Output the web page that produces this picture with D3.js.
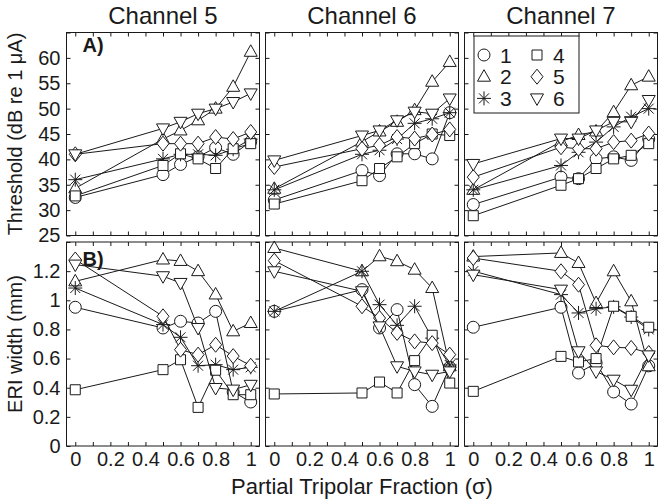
<!DOCTYPE html>
<html><head><meta charset="utf-8">
<script src="https://cdn.jsdelivr.net/npm/d3@7"></script>
<style>
html,body{margin:0;padding:0;background:#fff;}
svg{display:block;font-family:"Liberation Sans",Arial,sans-serif;}
</style></head>
<body><svg id="chart" width="663" height="503"></svg>
<script>
// ---------------- data ----------------
const fractions = [0, 0.5, 0.6, 0.7, 0.8, 0.9, 1.0];
const channels = ["Channel 5", "Channel 6", "Channel 7"];
const seriesNames = ["1", "2", "3", "4", "5", "6"];
const seriesSymbols = ["circle", "triangle", "star", "square", "diamond", "triangleDown"];

// Threshold (dB re 1 uA), [series][fraction]
const thresholdCh5 = [
  [32.5, 37.0, 39.0, 40.5, 42.3, 41.0, 43.5],
  [34.3, 44.0, 45.7, 47.7, 50.0, 54.3, 61.2],
  [36.0, 40.1, 41.0, 41.0, 40.8, 42.0, 44.0],
  [32.8, 38.8, 41.1, 40.1, 38.2, 42.1, 43.1],
  [41.0, 43.1, 43.1, 43.1, 44.4, 44.0, 45.4],
  [41.0, 46.1, 47.4, 49.0, 50.0, 51.3, 53.0]
];
const thresholdCh6 = [
  [32.0, 37.8, 36.8, 41.1, 41.1, 40.1, 49.2],
  [34.2, 43.5, 45.5, 47.4, 49.7, 55.3, 59.2],
  [34.0, 41.0, 41.8, 44.0, 47.1, 48.0, 49.2],
  [31.2, 35.8, 38.2, 40.5, 43.1, 45.0, 44.7],
  [38.5, 42.1, 42.8, 44.4, 44.1, 44.9, 45.9],
  [39.8, 44.7, 45.7, 47.7, 49.4, 49.0, 52.0]
];
const thresholdCh7 = [
  [31.1, 36.5, 36.2, 40.1, 40.5, 39.8, 44.0],
  [34.0, 43.5, 44.8, 45.5, 49.3, 54.6, 56.3],
  [34.0, 38.8, 41.4, 43.4, 46.4, 48.4, 50.0],
  [28.9, 34.9, 36.2, 38.2, 40.1, 40.8, 43.1],
  [36.5, 42.4, 42.1, 42.1, 43.4, 43.7, 45.1],
  [39.1, 44.1, 44.1, 45.7, 47.4, 47.4, 51.7]
];
// ERI width (mm), [series][fraction]
const eriCh5 = [
  [0.952, 0.810, 0.856, 0.844, 0.924, 0.371, 0.302],
  [1.130, 1.280, 1.270, 1.200, 1.040, 0.787, 0.844],
  [1.084, 0.833, 0.746, 0.551, 0.558, 0.524, 0.540],
  [0.386, 0.524, 0.592, 0.265, 0.520, 0.352, 0.352],
  [1.280, 0.890, 0.661, 0.627, 0.695, 0.617, 0.551],
  [1.245, 1.165, 1.119, 0.810, 0.398, 0.387, 0.420]
];
const eriCh6 = [
  [0.924, 1.073, 0.810, 0.936, 0.421, 0.272, 0.540],
  [1.359, 1.199, 1.302, 1.268, 1.210, 1.084, 0.547],
  [0.924, 1.199, 0.970, 0.828, 0.959, 0.740, 0.556],
  [0.357, 0.364, 0.439, 0.364, 0.586, 0.760, 0.432],
  [1.272, 0.959, 0.878, 0.776, 0.718, 0.706, 0.627],
  [1.199, 1.062, 0.821, 0.547, 0.512, 0.489, 0.512]
];
const eriCh7 = [
  [0.815, 0.952, 0.501, 0.570, 0.371, 0.288, 0.550],
  [1.300, 1.325, 1.256, 0.981, 1.199, 0.993, 0.547],
  [1.200, 1.039, 0.913, 0.942, 0.955, 0.885, 0.800],
  [0.375, 0.615, 0.577, 0.600, 0.959, 0.890, 0.815],
  [1.290, 1.199, 1.107, 0.691, 0.677, 0.673, 0.638],
  [1.176, 1.073, 0.650, 0.512, 0.455, 0.386, 0.622]
];

const xTickValues = [0, 0.1, 0.2, 0.3, 0.4, 0.5, 0.6, 0.7, 0.8, 0.9, 1.0];
const xTickLabels = ["0", "", "0.2", "", "0.4", "", "0.6", "", "0.8", "", "1"];
const thrTickValues = [25, 30, 35, 40, 45, 50, 55, 60, 65];
const thrTickLabels = ["25", "30", "35", "40", "45", "50", "55", "60", ""];
const eriTickValues = [0, 0.2, 0.4, 0.6, 0.8, 1.0, 1.2, 1.4];
const eriTickLabels = ["0", "0.2", "0.4", "0.6", "0.8", "1", "1.2", ""];

const panelLetters = ["A)", "B)"];
const yLabels = ["Threshold (dB re 1 \u03BCA)", "ERI width (mm)"];
const xLabel = "Partial Tripolar Fraction (\u03C3)";

// ---------------- layout ----------------
const svg = d3.select("#chart");
const ink = "#1a1a1a";
const colLeft = [66.5, 265.5, 464.5];
const colW = 193;
const rows = [
  {top: 32.5, bottom: 235.5, domain: [25, 65], data: [thresholdCh5, thresholdCh6, thresholdCh7],
   ticks: thrTickValues, labels: thrTickLabels},
  {top: 242, bottom: 446, domain: [0, 1.4], data: [eriCh5, eriCh6, eriCh7],
   ticks: eriTickValues, labels: eriTickLabels}
];

function symbolPath(type) {
  switch (type) {
    case "circle": return "M6,0A6,6 0 1,1 -6,0A6,6 0 1,1 6,0Z";
    case "square": return "M-5,-5H5V5H-5Z";
    case "triangle": return "M0,-7L6.5,4.5L-6.5,4.5Z";
    case "triangleDown": return "M0,7L6.5,-4.5L-6.5,-4.5Z";
    case "diamond": return "M0,-7.5L6,0L0,7.5L-6,0Z";
    case "star": return "M-7,0H7M0,-7V7M-5,-5L5,5M-5,5L5,-5";
  }
}

function drawMarker(g, type, x, y) {
  g.append("path")
    .attr("transform", `translate(${x},${y})`)
    .attr("d", symbolPath(type))
    .attr("fill", type === "star" ? "none" : "#fff")
    .attr("stroke", ink)
    .attr("stroke-width", 1);
}

rows.forEach((row, ri) => {
  const y = d3.scaleLinear().domain(row.domain).range([row.bottom, row.top]);
  channels.forEach((ch, ci) => {
    const x = d3.scaleLinear().domain([-0.05, 1.05]).range([colLeft[ci], colLeft[ci] + colW]);
    const g = svg.append("g");

    // axes (inward ticks on all sides)
    const axB = d3.axisBottom(x).tickValues(xTickValues).tickSizeInner(-4).tickSizeOuter(0).tickPadding(6)
      .tickFormat((d, i) => ri === 1 ? xTickLabels[i] : "");
    const axT = d3.axisTop(x).tickValues(xTickValues).tickSizeInner(-4).tickSizeOuter(0).tickFormat("");
    const axL = d3.axisLeft(y).tickValues(row.ticks).tickSizeInner(-4).tickSizeOuter(0).tickPadding(6)
      .tickFormat((d, i) => ci === 0 ? row.labels[i] : "");
    const axR = d3.axisRight(y).tickValues(row.ticks).tickSizeInner(-4).tickSizeOuter(0).tickFormat("");

    [[axB, `translate(0,${row.bottom})`], [axT, `translate(0,${row.top})`],
     [axL, `translate(${colLeft[ci]},0)`], [axR, `translate(${colLeft[ci] + colW},0)`]].forEach(([ax, tr]) => {
      const a = g.append("g").attr("transform", tr).call(ax);
      a.select(".domain").remove();
      a.selectAll("line").attr("stroke", ink);
      a.selectAll("text").attr("font-size", 20).attr("fill", ink)
        .attr("font-family", '"Liberation Sans",Arial,sans-serif');
    });

    // data
    const lineGen = d3.line().x((d, i) => x(fractions[i])).y(d => y(d));
    row.data[ci].forEach((vals, si) => {
      g.append("path").attr("d", lineGen(vals)).attr("fill", "none")
        .attr("stroke", ink).attr("stroke-width", 1);
      vals.forEach((v, i) => drawMarker(g, seriesSymbols[si], x(fractions[i]), y(v)));
    });

    // box
    g.append("rect").attr("x", colLeft[ci]).attr("y", row.top)
      .attr("width", colW).attr("height", row.bottom - row.top)
      .attr("fill", "none").attr("stroke", ink).attr("stroke-width", 1);

    if (ri === 0) {
      svg.append("text").attr("x", colLeft[ci] + colW / 2).attr("y", 24)
        .attr("text-anchor", "middle").attr("font-size", 24).attr("fill", ink).text(ch);
    }
    if (ci === 0) {
      svg.append("text").attr("x", colLeft[0] + 16).attr("y", ri === 0 ? 52 : 266)
        .attr("font-size", 20).attr("font-weight", "bold").attr("fill", ink).text(panelLetters[ri]);
      svg.append("text")
        .attr("transform", `translate(22,${(row.top + row.bottom) / 2}) rotate(-90)`)
        .attr("text-anchor", "middle").attr("font-size", 20).attr("fill", ink).text(yLabels[ri]);
    }
  });
});

// x label
svg.append("text").attr("x", 362).attr("y", 494).attr("text-anchor", "middle")
  .attr("font-size", 22).attr("fill", ink).text(xLabel);

// legend
const leg = svg.append("g");
leg.append("rect").attr("x", 474).attr("y", 36).attr("width", 105).attr("height", 77)
  .attr("fill", "#fff").attr("stroke", ink).attr("stroke-width", 1);
seriesNames.forEach((name, i) => {
  const col = Math.floor(i / 3), r = i % 3;
  const mx = col === 0 ? 484 : 537, my = 55 + r * 21.7;
  drawMarker(leg, seriesSymbols[i], mx, my);
  leg.append("text").attr("x", mx + 16).attr("y", my + 7.5).attr("font-size", 21)
    .attr("fill", ink).text(name);
});
</script></body></html>
